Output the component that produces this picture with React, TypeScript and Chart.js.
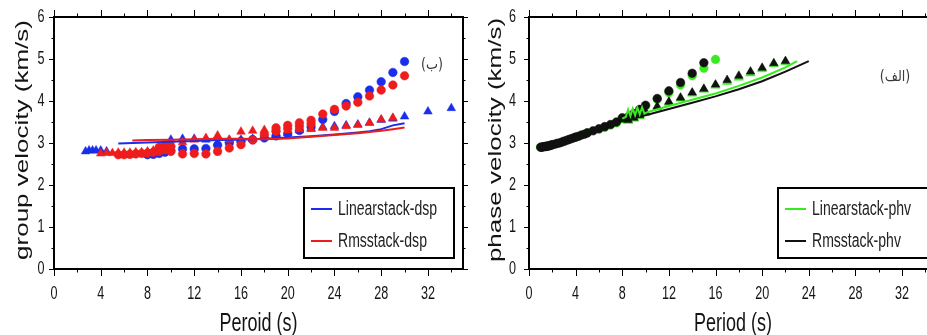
import React, { useEffect, useRef } from 'react';
import { Chart, registerables } from 'chart.js';
Chart.register(...registerables);

// ---------- axes ----------
const X_TICKS = [0, 4, 8, 12, 16, 20, 24, 28, 32];
const X_MINOR = [2, 6, 10, 14, 18, 22, 26, 30, 34];
const Y_TICKS = [0, 1, 2, 3, 4, 5, 6];
const Y_MINOR = [0.5, 1.5, 2.5, 3.5, 4.5, 5.5];

// ---------- group velocity panel (ب) ----------
const grpLinCircT = [8, 8.5, 9, 9.5, 10, 11, 12, 13, 14, 15, 16, 17, 18, 19, 20, 21, 22, 23, 24, 25, 26, 27, 28, 29, 30];
const grpLinCircV = [2.72, 2.73, 2.75, 2.78, 2.82, 2.86, 2.86, 2.87, 2.95, 3.0, 3.04, 3.08, 3.12, 3.17, 3.22, 3.3, 3.38, 3.56, 3.75, 3.94, 4.1, 4.26, 4.46, 4.68, 4.94];

const grpRmsCircT = [5.5, 6, 6.5, 7, 7.5, 8, 8.5, 9, 9, 9.5, 9.5, 10, 10, 11, 12, 13, 14, 15, 16, 17, 18, 19, 19, 20, 20, 21, 21, 22, 22, 23, 24, 25, 26, 27, 28, 29, 30];
const grpRmsCircV = [2.72, 2.72, 2.73, 2.74, 2.75, 2.76, 2.78, 2.8, 2.9, 2.84, 2.96, 2.8, 2.92, 2.74, 2.75, 2.74, 2.8, 2.88, 2.96, 3.07, 3.2, 3.28, 3.36, 3.34, 3.42, 3.4, 3.48, 3.46, 3.54, 3.69, 3.8, 3.88, 3.97, 4.12, 4.26, 4.38, 4.6];

const grpLinTriT = [2.7, 3.0, 3.3, 3.6, 4.0, 4.5, 10, 11, 12, 13, 14, 15, 16, 17, 18, 19, 20, 21, 22, 23, 24, 25, 26, 27, 28, 29, 30, 32, 34];
const grpLinTriV = [2.8, 2.82, 2.82, 2.82, 2.82, 2.8, 3.08, 3.1, 3.1, 3.08, 3.0, 3.07, 3.08, 3.1, 3.14, 3.2, 3.24, 3.3, 3.35, 3.38, 3.4, 3.42, 3.44, 3.48, 3.55, 3.58, 3.63, 3.75, 3.83];

const grpRmsTriT = [4, 4.5, 5, 5.5, 6, 6.5, 7, 7.5, 8, 8.5, 9, 9.5, 10, 11, 12, 13, 14, 15, 16, 17, 18, 19, 20, 21, 22, 23, 24, 25, 26, 27, 28, 29];
const grpRmsTriV = [2.75, 2.76, 2.76, 2.77, 2.77, 2.77, 2.78, 2.78, 2.8, 2.82, 2.85, 2.9, 2.96, 3.02, 3.08, 3.12, 3.18, 3.08, 3.27, 3.29, 3.31, 3.33, 3.3, 3.32, 3.33, 3.36, 3.36, 3.4, 3.43, 3.48, 3.56, 3.6];

const grpLinLineT = [5.5, 8, 10, 12, 14, 16, 18, 20, 22, 24, 26, 27, 28, 29, 30];
const grpLinLineV = [2.99, 3.01, 3.03, 3.05, 3.07, 3.08, 3.1, 3.13, 3.16, 3.2, 3.25, 3.28, 3.33, 3.42, 3.47];
const grpRmsLineT = [6.7, 8, 10, 12, 14, 16, 18, 20, 22, 24, 26, 28, 29, 30];
const grpRmsLineV = [3.06, 3.07, 3.08, 3.09, 3.1, 3.1, 3.09, 3.11, 3.15, 3.19, 3.23, 3.29, 3.33, 3.37];

// ---------- phase velocity panel (الف) ----------
const phvRmsCircT = [1.0, 1.1, 1.2, 1.3, 1.4, 1.5, 1.6, 1.7, 1.8, 1.9, 2.0, 2.2, 2.4, 2.6, 2.8, 3.0, 3.2, 3.4, 3.6, 3.8, 4.0, 4.25, 4.5, 4.75, 5.0, 5.5, 6.0, 6.5, 7.0, 7.5, 8.0, 8.5, 9.0, 9.5, 10, 11, 12, 13, 14, 15];
const phvRmsCircV = [2.9, 2.9, 2.91, 2.91, 2.92, 2.92, 2.93, 2.93, 2.94, 2.95, 2.96, 2.97, 2.99, 3.0, 3.02, 3.04, 3.06, 3.08, 3.1, 3.12, 3.14, 3.16, 3.19, 3.21, 3.24, 3.29, 3.34, 3.39, 3.44, 3.5, 3.6, 3.62, 3.7, 3.8, 3.9, 4.06, 4.24, 4.44, 4.66, 4.91];
const phvLinCircT = [1.0, 1.5, 2.0, 3.0, 4.0, 5.0, 6.0, 6.5, 7.0, 7.5, 8.0, 9.0, 10, 11, 12, 13, 14, 15, 16];
const phvLinCircV = [2.9, 2.92, 2.96, 3.04, 3.14, 3.24, 3.33, 3.37, 3.43, 3.48, 3.58, 3.68, 3.88, 4.04, 4.2, 4.38, 4.6, 4.78, 4.99];

const phvRmsTriT = [8.5, 9, 9.5, 10, 11, 12, 13, 14, 15, 16, 17, 18, 19, 20, 21, 22];
const phvRmsTriV = [3.55, 3.6, 3.66, 3.74, 3.87, 3.98, 4.08, 4.2, 4.29, 4.39, 4.5, 4.6, 4.7, 4.79, 4.9, 4.95];
const phvLinTriT = [8.5, 9, 9.5, 10, 11, 12, 13, 14, 15, 16, 17, 18, 19, 20, 21, 22];
const phvLinTriV = [3.53, 3.58, 3.64, 3.72, 3.85, 3.96, 4.06, 4.18, 4.27, 4.37, 4.46, 4.56, 4.66, 4.76, 4.88, 4.93];

const phvRmsLineT = [1, 2, 3, 4, 5, 6, 7, 8, 10, 12, 14, 16, 18, 20, 22, 24];
const phvRmsLineV = [2.9, 2.96, 3.04, 3.14, 3.23, 3.33, 3.43, 3.53, 3.66, 3.81, 3.96, 4.11, 4.28, 4.47, 4.7, 4.95];
const phvLinLineT = [8.0, 8.3, 8.5, 8.7, 8.9, 9.1, 9.3, 9.5, 9.7, 9.9, 10.2, 12, 14, 16, 18, 20, 22, 23];
const phvLinLineV = [3.58, 3.62, 3.8, 3.64, 3.82, 3.66, 3.84, 3.68, 3.85, 3.7, 3.74, 3.88, 4.03, 4.18, 4.36, 4.56, 4.8, 4.95];

const BLUE = 'rgb(25,45,235)';
const RED = 'rgb(238,28,28)';
const GREEN = 'rgb(55,235,30)';
const BLACK = 'rgb(17,17,17)';
const FONT = '"Liberation Sans", Arial, Helvetica, sans-serif';
const SX = 0.72;

const pts = (t: number[], v: number[]) => t.map((x, i) => ({ x, y: v[i] }));

function drawText(ctx: CanvasRenderingContext2D, text: string, x: number, y: number, font: string, sx: number, align: CanvasTextAlign, baseline: CanvasTextBaseline, rot = 0, color = '#141414') {
  ctx.save();
  ctx.translate(x, y);
  ctx.scale(sx, 1);
  ctx.rotate(rot);
  ctx.font = font;
  ctx.fillStyle = color;
  ctx.textAlign = align;
  ctx.textBaseline = baseline;
  ctx.fillText(text, 0, 0);
  ctx.restore();
}

const decor = {
  id: 'decor',
  afterDraw(chart: any, _a: any, o: any) {
    const { ctx, chartArea: a, scales } = chart;
    const xs = scales.x, ys = scales.y;
    ctx.save();
    // ticks
    ctx.strokeStyle = '#000';
    ctx.lineWidth = 1;
    ctx.beginPath();
    const vx = (p: number, len: number) => {
      const q = Math.round(p) + 0.5;
      ctx.moveTo(q, a.bottom); ctx.lineTo(q, a.bottom + len);
      ctx.moveTo(q, a.top); ctx.lineTo(q, a.top - len);
    };
    const hy = (p: number, len: number) => {
      const q = Math.round(p) + 0.5;
      ctx.moveTo(a.left, q); ctx.lineTo(a.left - len, q);
      ctx.moveTo(a.right, q); ctx.lineTo(a.right + len, q);
    };
    X_TICKS.forEach(v => vx(xs.getPixelForValue(v), 7));
    X_MINOR.forEach(v => vx(xs.getPixelForValue(v), 3.5));
    Y_TICKS.forEach(v => hy(ys.getPixelForValue(v), 5));
    Y_MINOR.forEach(v => hy(ys.getPixelForValue(v), 2.5));
    ctx.stroke();
    // frame
    ctx.lineWidth = 2;
    ctx.strokeRect(a.left, a.top, a.right - a.left, a.bottom - a.top);

    // tick labels
    X_TICKS.forEach(v => drawText(ctx, String(v), xs.getPixelForValue(v), a.bottom + 25, `17.5px ${FONT}`, SX, 'center', 'middle'));
    Y_TICKS.forEach(v => drawText(ctx, String(v), a.left - o.yLabGap, ys.getPixelForValue(v) + 0.5, `17.5px ${FONT}`, SX, 'right', 'middle'));

    // axis titles
    drawText(ctx, o.xTitle, (a.left + a.right) / 2, a.bottom + 62, `25px ${FONT}`, SX, 'center', 'alphabetic');
    drawText(ctx, o.yTitle, a.left - o.yTitleGap, (a.top + a.bottom) / 2 - 3, `26px ${FONT}`, SX, 'center', 'middle', -Math.PI / 2);

    // panel tag
    drawText(ctx, o.tag, a.right - o.tagDx, a.top + o.tagDy, `15px "DejaVu Sans", sans-serif`, 0.85, 'center', 'middle', 0, '#3a3a3a');

    // legend
    const lines = chart.data.datasets.filter((d: any) => d.showLine);
    const bw = 150, bh = 70;
    const bl = a.right - 9 - bw, bt = a.bottom - 11 - bh;
    ctx.fillStyle = '#fff';
    ctx.fillRect(bl, bt, bw, bh);
    ctx.lineWidth = 2;
    ctx.strokeStyle = '#000';
    ctx.strokeRect(bl, bt, bw, bh);
    lines.forEach((d: any, i: number) => {
      const y = bt + 21 + i * 32;
      ctx.beginPath();
      ctx.strokeStyle = d.borderColor;
      ctx.lineWidth = 2;
      ctx.moveTo(bl + 7, y); ctx.lineTo(bl + 28, y);
      ctx.stroke();
      drawText(ctx, d.label, bl + 34, y + 1, `19.5px ${FONT}`, SX, 'left', 'middle', 0, '#222');
    });
    ctx.restore();
  },
};

function scatterSet(label: string, data: any[], color: string, style: string, r: number, order: number) {
  return { label, data, showLine: false, pointStyle: style, pointRadius: r, pointBackgroundColor: color, pointBorderColor: color, pointBorderWidth: 0.5, order };
}
function lineSet(label: string, data: any[], color: string, order: number) {
  return { label, data, showLine: true, borderColor: color, backgroundColor: color, borderWidth: 2, pointRadius: 0, tension: 0, fill: false, order };
}

function makeConfig(datasets: any[], pad: any, decorOpts: any) {
  return {
    type: 'scatter',
    data: { datasets },
    options: {
      responsive: false,
      animation: false,
      devicePixelRatio: 1,
      layout: { padding: pad },
      plugins: { legend: { display: false }, tooltip: { enabled: false }, decor: decorOpts },
      scales: {
        x: { type: 'linear', min: 0, max: 35, display: false },
        y: { type: 'linear', min: 0, max: 6, display: false },
      },
    },
    plugins: [decor],
  };
}

function Panel({ config, left, width }: { config: () => any; left: number; width: number }) {
  const ref = useRef<HTMLCanvasElement>(null);
  useEffect(() => {
    const c = new Chart(ref.current as HTMLCanvasElement, config());
    return () => c.destroy();
  }, []);
  return <canvas ref={ref} width={width} height={335} style={{ position: 'absolute', left, top: 0, width, height: 335, display: 'block' }} />;
}

const groupConfig = () =>
  makeConfig(
    [
      lineSet('Linearstack-dsp', pts(grpLinLineT, grpLinLineV), BLUE, 1),
      lineSet('Rmsstack-dsp', pts(grpRmsLineT, grpRmsLineV), RED, 0),
      scatterSet('rms circ', pts(grpRmsCircT, grpRmsCircV), RED, 'circle', 4.3, 2),
      scatterSet('rms tri', pts(grpRmsTriT, grpRmsTriV), RED, 'triangle', 5, 3),
      scatterSet('lin circ', pts(grpLinCircT, grpLinCircV), BLUE, 'circle', 4.3, 4),
      scatterSet('lin tri', pts(grpLinTriT, grpLinTriV), BLUE, 'triangle', 5, 5),
    ],
    { left: 54, right: 7, top: 17, bottom: 66 },
    { xTitle: 'Peroid (s)', yTitle: 'group velocity (km/s)', yLabGap: 9.5, yTitleGap: 31, tag: '(ب)', tagDx: 31, tagDy: 48 }
  );

const phaseConfig = () =>
  makeConfig(
    [
      lineSet('Linearstack-phv', pts(phvLinLineT, phvLinLineV), GREEN, 0),
      lineSet('Rmsstack-phv', pts(phvRmsLineT, phvRmsLineV), BLACK, 1),
      scatterSet('rms circ', pts(phvRmsCircT, phvRmsCircV), BLACK, 'circle', 4.3, 2),
      scatterSet('rms tri', pts(phvRmsTriT, phvRmsTriV), BLACK, 'triangle', 5, 3),
      scatterSet('lin circ', pts(phvLinCircT, phvLinCircV), GREEN, 'circle', 4.3, 4),
      scatterSet('lin tri', pts(phvLinTriT, phvLinTriV), GREEN, 'triangle', 5.4, 5),
    ],
    { left: 59, right: 8, top: 17, bottom: 66 },
    { xTitle: 'Period (s)', yTitle: 'phase velocity (km/s)', yLabGap: 13, yTitleGap: 33, tag: '(الف)', tagDx: 42, tagDy: 60 }
  );

export default function App() {
  return (
    <div style={{ position: 'fixed', left: 0, top: 0, width: 927, height: 335, overflow: 'hidden', background: '#fff' }}>
      <Panel config={groupConfig} left={0} width={470} />
      <Panel config={phaseConfig} left={470} width={475} />
    </div>
  );
}
